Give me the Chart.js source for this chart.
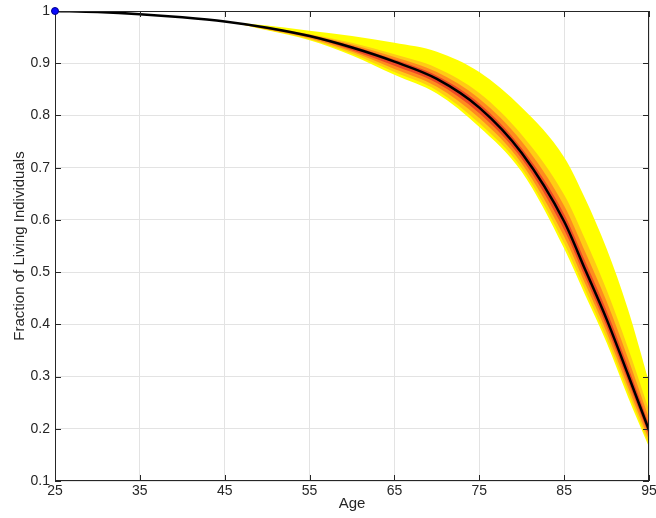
<!DOCTYPE html>
<html>
<head>
<meta charset="utf-8">
<script src="https://cdn.jsdelivr.net/npm/chart.js@4"></script>
<style>
  body { margin: 0; background: #fff; }
</style>
</head>
<body>
<canvas id="survivalChart" width="656" height="518"></canvas>
<script>
// ages and survival curve
const ages = [25, 30, 35, 40, 45, 50, 55, 60, 65, 70, 75, 80, 85, 87.5, 90, 92.5, 95];
const median = [1.000, 0.998, 0.994, 0.988, 0.980, 0.968, 0.952, 0.930, 0.903, 0.870, 0.815, 0.728, 0.597, 0.504, 0.410, 0.305, 0.197];

// uncertainty bands, outer (yellow) to inner (red)
const upper   = [1.000, 0.998, 0.994, 0.988, 0.980, 0.972, 0.962, 0.952, 0.939, 0.922, 0.883, 0.815, 0.720, 0.640, 0.545, 0.430, 0.290];
const uGold   = [1.000, 0.998, 0.994, 0.988, 0.980, 0.970, 0.956, 0.939, 0.917, 0.891, 0.843, 0.763, 0.648, 0.562, 0.466, 0.356, 0.236];
const uOrange = [1.000, 0.998, 0.994, 0.988, 0.980, 0.969, 0.955, 0.936, 0.912, 0.883, 0.832, 0.750, 0.627, 0.538, 0.444, 0.336, 0.220];
const uRed    = [1.000, 0.998, 0.994, 0.988, 0.980, 0.969, 0.953, 0.933, 0.907, 0.876, 0.823, 0.737, 0.611, 0.520, 0.426, 0.320, 0.208];
const lRed    = [1.000, 0.998, 0.994, 0.988, 0.980, 0.966, 0.950, 0.925, 0.895, 0.862, 0.804, 0.717, 0.581, 0.489, 0.396, 0.292, 0.187];
const lOrange = [1.000, 0.998, 0.994, 0.988, 0.980, 0.965, 0.948, 0.922, 0.889, 0.855, 0.795, 0.708, 0.568, 0.477, 0.385, 0.281, 0.179];
const lGold   = [1.000, 0.998, 0.994, 0.988, 0.980, 0.964, 0.946, 0.918, 0.883, 0.848, 0.785, 0.699, 0.555, 0.465, 0.374, 0.271, 0.171];
const lower   = [1.000, 0.998, 0.994, 0.988, 0.980, 0.963, 0.944, 0.915, 0.878, 0.842, 0.778, 0.692, 0.545, 0.455, 0.365, 0.262, 0.165];

const xTicks = [25, 35, 45, 55, 65, 75, 85, 95];
const yTicks = [0.1, 0.2, 0.3, 0.4, 0.5, 0.6, 0.7, 0.8, 0.9, 1];

const pts = arr => ages.map((a, i) => ({ x: a, y: arr[i] }));

function band(arr, color, target) {
    return {
        data: pts(arr),
        borderWidth: 0,
        pointRadius: 0,
        backgroundColor: color,
        fill: target === undefined ? false : target,
        cubicInterpolationMode: 'monotone'
    };
}

const axisColor = '#262626';
const fontFamily = 'Liberation Sans, Arial, sans-serif';
const tickFont = { family: fontFamily, size: 14 };
const titleFont = { family: fontFamily, size: 15 };

// box around the plot + inward tick marks, matlab style
const framePlugin = {
    id: 'frame',
    afterDatasetsDraw(chart) {
        const { ctx, chartArea: a, scales: { x, y } } = chart;
        ctx.save();
        ctx.strokeStyle = axisColor;
        ctx.lineWidth = 1;
        ctx.strokeRect(a.left + 0.5, a.top + 0.5, a.width - 1, a.height - 1);
        ctx.beginPath();
        x.ticks.forEach(t => {
            const px = Math.round(x.getPixelForValue(t.value)) + 0.5;
            ctx.moveTo(px, a.bottom); ctx.lineTo(px, a.bottom - 6);
            ctx.moveTo(px, a.top); ctx.lineTo(px, a.top + 6);
        });
        y.ticks.forEach(t => {
            const py = Math.round(y.getPixelForValue(t.value)) + 0.5;
            ctx.moveTo(a.left, py); ctx.lineTo(a.left + 6, py);
            ctx.moveTo(a.right, py); ctx.lineTo(a.right - 6, py);
        });
        ctx.stroke();
        // start marker on top of the frame
        const p0x = x.getPixelForValue(ages[0]);
        const p0y = y.getPixelForValue(median[0]);
        ctx.fillStyle = '#0a0aff';
        ctx.strokeStyle = '#00008b';
        ctx.beginPath();
        ctx.arc(p0x, p0y, 3.5, 0, Math.PI * 2);
        ctx.fill();
        ctx.stroke();
        ctx.restore();
    }
};

const ctx = document.getElementById('survivalChart').getContext('2d');

const survivalChart = new Chart(ctx, {
    type: 'line',
    data: {
        datasets: [
            {
                data: pts(median),
                borderColor: '#000000',
                borderWidth: 2.5,
                pointRadius: 0,
                fill: false,
                cubicInterpolationMode: 'monotone'
            },
            band(uRed, '#ee4a26', 2),
            band(lRed),
            band(uOrange, '#ff8c1e', 4),
            band(lOrange),
            band(uGold, '#ffcc14', 6),
            band(lGold),
            band(upper, '#ffff00', 8),
            band(lower)
        ]
    },
    options: {
        responsive: false,
        animation: false,
        layout: { padding: { left: 11, right: 7, top: 11, bottom: 5 } },
        plugins: {
            legend: { display: false },
            tooltip: { enabled: false }
        },
        scales: {
            x: {
                type: 'linear',
                min: 25,
                max: 95,
                afterBuildTicks: s => { s.ticks = xTicks.map(v => ({ value: v })); },
                afterFit: s => { s.height = 32; s.paddingLeft = 0; s.paddingRight = 0; },
                grid: { color: '#e3e3e3', drawTicks: false },
                border: { display: false },
                ticks: { color: axisColor, font: tickFont, padding: 2, maxRotation: 0 },
                title: {
                    display: true,
                    text: 'Age',
                    color: axisColor,
                    font: titleFont,
                    padding: 0
                }
            },
            y: {
                min: 0.1,
                max: 1,
                afterBuildTicks: s => { s.ticks = yTicks.map(v => ({ value: v })); },
                afterFit: s => { s.width = 44; s.paddingTop = 0; s.paddingBottom = 0; },
                grid: { color: '#e3e3e3', drawTicks: false },
                border: { display: false },
                ticks: {
                    color: axisColor,
                    font: tickFont,
                    padding: 5,
                    callback: v => String(Number(v.toFixed(1)))
                },
                title: {
                    display: true,
                    text: 'Fraction of Living Individuals',
                    color: axisColor,
                    font: titleFont,
                    padding: 0
                }
            }
        }
    },
    plugins: [framePlugin]
});
</script>
</body>
</html>
